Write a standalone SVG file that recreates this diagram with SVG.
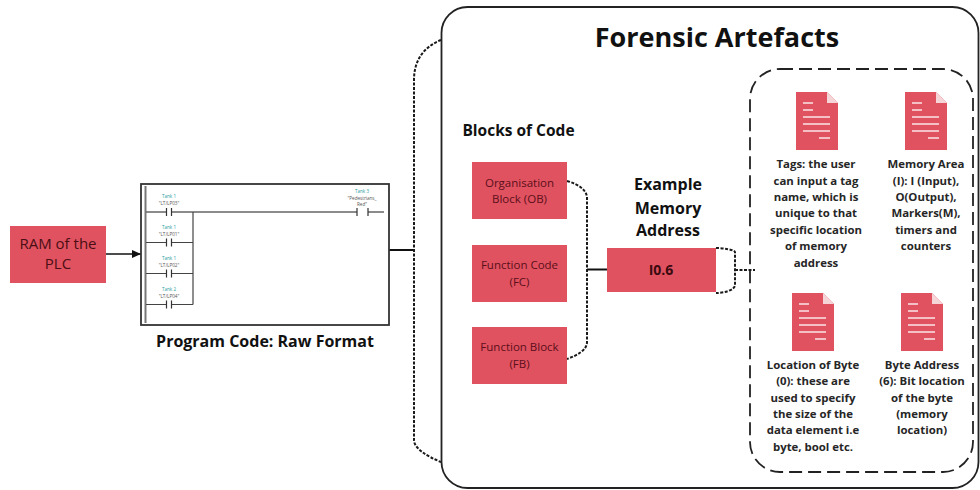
<svg xmlns="http://www.w3.org/2000/svg" width="980" height="490" viewBox="0 0 980 490">
<style>
text{font-family:"Open Sans","Liberation Sans",sans-serif;text-anchor:middle}
.red{fill:#e15260}
.h{font-weight:700;fill:#111}
.box{font-size:11.500px;fill:#5a0f1a}
.ram{font-size:15px;fill:#4a0e14}
.doc{font-size:11.400px;font-weight:700;fill:#262626}
.tag{font-size:4.600px;fill:#2a9d9d}
.tag2{font-size:4.600px;fill:#555}
.lad{fill:none;stroke:#333;stroke-width:1.200}
.dot{fill:none;stroke:#1a1a1a;stroke-width:2;stroke-dasharray:3 1.500}
.ln{fill:none;stroke:#111;stroke-width:2}
.docl{stroke:#fff;stroke-width:1.500;opacity:.85;fill:none}
</style>
<defs>
<marker id="arr" markerWidth="9" markerHeight="8" refX="9" refY="4" orient="auto" markerUnits="userSpaceOnUse"><path d="M0 0L9 4L0 8Z" fill="#111"/></marker>
<g id="file">
<path d="M0 0H31L42 11V58H0Z" fill="#e15260"/>
<path d="M31 0L42 11H31Z" fill="#f6d5d8"/>
<path class="docl" d="M7 11H17M7 18H17M7 25H34M7 32H34M7 39H34M23 46H34"/>
</g>
</defs>
<g id="connectors">
<path fill="none" stroke="#111" stroke-width="1.300" d="M106 254H141" marker-end="url(#arr)"/>
<path class="ln" d="M389 250H414"/>
<path class="dot" d="M441 40C426 46 414 58 414 80V440C414 448 426 456 441 462"/>
<path class="dot" d="M567 181C578 184 587 190 587 198V342C587 350 578 355 567 359"/>
<path class="ln" d="M587 269.500H607"/>
<path class="dot" d="M716 248C724 248 735 250 735 252V285C735 290 724 293 716 293"/>
<path class="dot" d="M735 270H755"/>
</g>
<g id="ram"><rect class="red" x="10" y="226" width="96" height="57"/><text class="ram" x="58" y="249">RAM of the</text><text class="ram" x="58" y="269">PLC</text></g>
<g id="ladder">
<rect x="141" y="184" width="248" height="141" fill="#fff" stroke="#333" stroke-width="1.800"/>
<path d="M145.500 186V323" stroke="#777" stroke-width="2" fill="none"/>
<path d="M146 212H166M172 212H357M368 212H384" stroke="#666" stroke-width="1.500" fill="none"/>
<path d="M146 242.500H166M172 242.500H193M146 273.500H166M172 273.500H193M146 304.500H166M172 304.500H193M193 212V304.500" stroke="#444" stroke-width="1.200" fill="none"/>
<path class="lad" d="M166.500 208V216M171.500 208V216M166.500 238.500V246.500M171.500 238.500V246.500M166.500 269.500V277.500M171.500 269.500V277.500M166.500 300.500V308.500M171.500 300.500V308.500M357 208V216M368 208V216"/>
<text class="tag" x="169" y="198">Tank 1</text><text class="tag2" x="169" y="204.500">"LT/LP03"</text>
<text class="tag" x="169" y="229">Tank 1</text><text class="tag2" x="169" y="235.500">"LT/LP01"</text>
<text class="tag" x="169" y="260">Tank 1</text><text class="tag2" x="169" y="266.500">"LT/LP02"</text>
<text class="tag" x="169" y="291">Tank 2</text><text class="tag2" x="169" y="297.500">"LT/LP04"</text>
<text class="tag" x="362" y="193">Tank 3</text><text class="tag2" x="362" y="199.500">"Pedestrians_</text><text class="tag2" x="362" y="206">Red"</text>
</g>
<text id="raw-label" class="h" style="font-size:16px" x="265" y="347">Program Code: Raw Format</text>
<g id="forensic">
<rect x="441.500" y="7" width="537" height="481" rx="26" fill="none" stroke="#222" stroke-width="1.800"/>
<text class="h" style="font-size:27px" x="717" y="47">Forensic Artefacts</text>
<text class="h" style="font-size:15.500px" x="518.500" y="136">Blocks of Code</text>
<text class="h" style="font-size:16px" x="668" y="190">Example</text>
<text class="h" style="font-size:16px" x="668" y="214">Memory</text>
<text class="h" style="font-size:16px" x="668" y="236">Address</text>
</g>
<g id="ob"><rect class="red" x="472" y="162" width="95" height="57"/><text class="box" x="519.500" y="187">Organisation</text><text class="box" x="519.500" y="203">Block (OB)</text></g>
<g id="fc"><rect class="red" x="472" y="245" width="95" height="57"/><text class="box" x="519.500" y="269">Function Code</text><text class="box" x="519.500" y="286">(FC)</text></g>
<g id="fb"><rect class="red" x="472" y="327" width="95" height="57"/><text class="box" x="519.500" y="351">Function Block</text><text class="box" x="519.500" y="368">(FB)</text></g>
<g id="addr"><rect class="red" x="607" y="248" width="109" height="44"/><text class="h" style="font-size:14px;fill:#3a0a10" x="661" y="275">I0.6</text></g>
<g id="artefacts"><rect x="750" y="69" width="223" height="403" rx="30" fill="none" stroke="#222" stroke-width="1.800" stroke-dasharray="13 6"/></g>
<g id="tags"><use href="#file" x="796" y="92"/>
<text class="doc" x="816" y="168">Tags: the user</text><text class="doc" x="816" y="185">can input a tag</text><text class="doc" x="816" y="201">name, which is</text><text class="doc" x="816" y="217">unique to that</text><text class="doc" x="816" y="234">specific location</text><text class="doc" x="816" y="250">of memory</text><text class="doc" x="816" y="267">address</text></g>
<g id="area"><use href="#file" x="905" y="92"/>
<text class="doc" x="926" y="168">Memory Area</text><text class="doc" x="926" y="185">(I): I (Input),</text><text class="doc" x="926" y="201">O(Output),</text><text class="doc" x="926" y="217">Markers(M),</text><text class="doc" x="926" y="234">timers and</text><text class="doc" x="926" y="250">counters</text></g>
<g id="loc"><use href="#file" x="792" y="293"/>
<text class="doc" x="813" y="369">Location of Byte</text><text class="doc" x="813" y="385">(0): these are</text><text class="doc" x="813" y="402">used to specify</text><text class="doc" x="813" y="418">the size of the</text><text class="doc" x="813" y="434">data element i.e</text><text class="doc" x="813" y="451">byte, bool etc.</text></g>
<g id="byte"><use href="#file" x="901" y="293"/>
<text class="doc" x="922" y="369">Byte Address</text><text class="doc" x="922" y="385">(6): Bit location</text><text class="doc" x="922" y="402">of the byte</text><text class="doc" x="922" y="418">(memory</text><text class="doc" x="922" y="434">location)</text></g>
</svg>
